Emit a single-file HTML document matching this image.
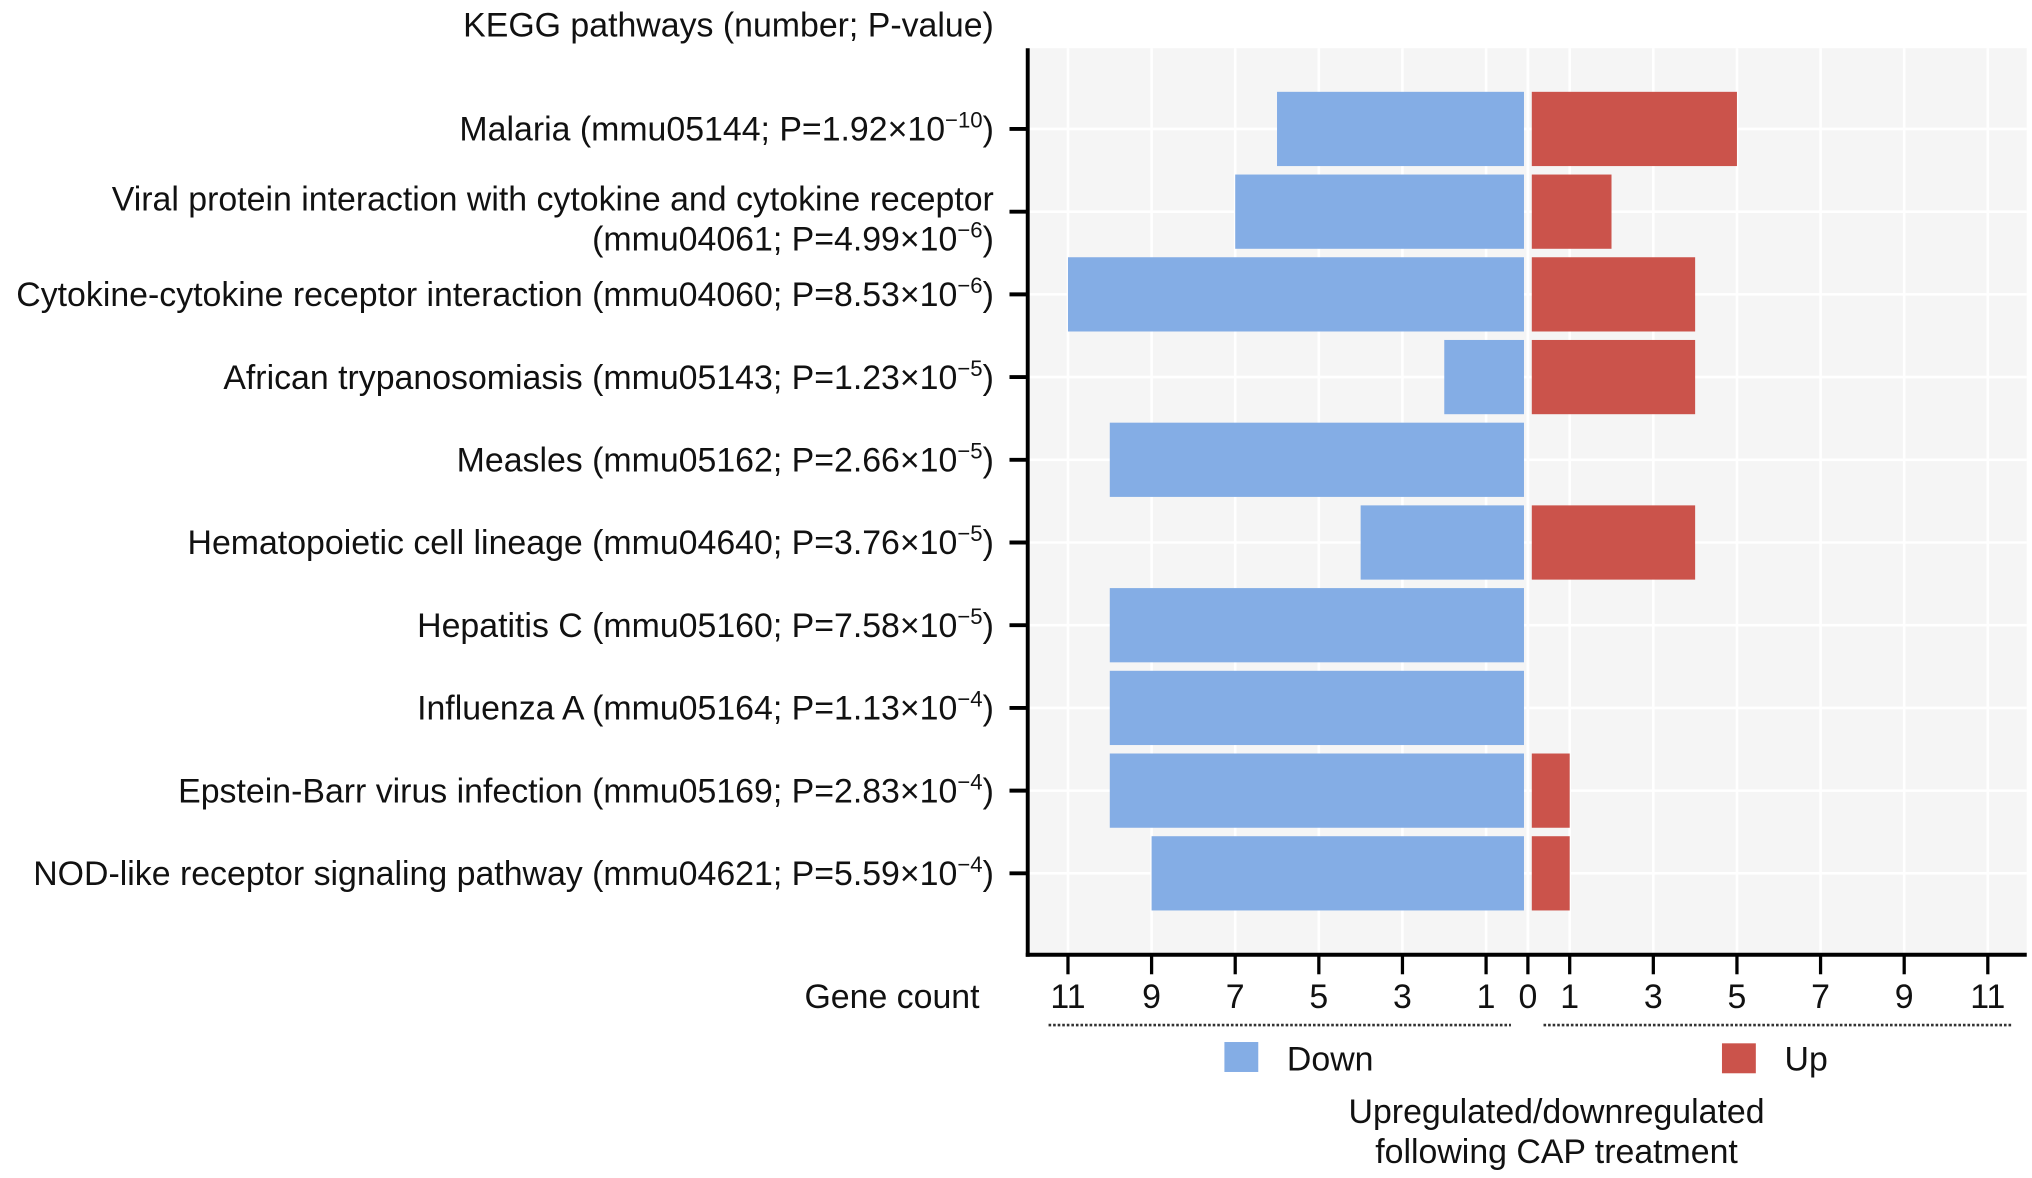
<!DOCTYPE html>
<html><head><meta charset="utf-8"><style>
html,body{margin:0;padding:0;background:#fff;}
svg{display:block;font-family:"Liberation Sans",Arial,sans-serif;}
</style></head><body>
<svg id="chart" width="2032" height="1178" viewBox="0 0 1560 904.4" xmlns="http://www.w3.org/2000/svg">
<g id="panel-g"></g>
</svg>
<script>
const names = ["Malaria","Viral protein interaction with cytokine and cytokine receptor","Cytokine-cytokine receptor interaction","African trypanosomiasis","Measles","Hematopoietic cell lineage","Hepatitis C","Influenza A","Epstein-Barr virus infection","NOD-like receptor signaling pathway"];
const codes = ["mmu05144","mmu04061","mmu04060","mmu05143","mmu05162","mmu04640","mmu05160","mmu05164","mmu05169","mmu04621"];
const pMant = ["1.92","4.99","8.53","1.23","2.66","3.76","7.58","1.13","2.83","5.59"];
const pExp = ["−10","−6","−6","−5","−5","−5","−5","−4","−4","−4"];
const downCounts = [6,7,11,2,10,4,10,10,10,9];
const upCounts = [5,2,4,4,0,4,0,0,1,1];
const tickVals = [11,9,7,5,3,1];

const NS="http://www.w3.org/2000/svg";
const svg=document.getElementById('chart');
function mk(tag,attrs,parent){const e=document.createElementNS(NS,tag);for(const k in attrs)e.setAttribute(k,attrs[k]);(parent||svg).appendChild(e);return e;}

const X0=1173, UNIT=32.1, PL=789, PR=1556, PT=37, PB=733;
const ROW0=99, ROWSTEP=63.5, BARH=57;
const FS=26;
const yRow=i=>ROW0+i*ROWSTEP;

let el;
el=mk('rect',{x:PL,y:PT,width:PR-PL,height:PB-PT,fill:'#f5f5f5'});


tickVals.concat([0]).forEach(v=>{
  [X0-v*UNIT, X0+v*UNIT].forEach(x=>{
    el=mk('line',{x1:x,x2:x,y1:PT,y2:PB,stroke:'#ffffff','stroke-width':2});
    
    
  });
});
names.forEach((n,i)=>{
  el=mk('line',{x1:PL,x2:PR,y1:yRow(i),y2:yRow(i),stroke:'#ffffff','stroke-width':2});
  
  
});
names.forEach((n,i)=>{
  const d=downCounts[i];
  if(d>0){
    el=mk('rect',{x:X0-d*UNIT,y:yRow(i)-BARH/2,width:d*UNIT-3,height:BARH,fill:'#84ade5'});
    
    
  }
  const u=upCounts[i];
  if(u>0){
    el=mk('rect',{x:X0+3,y:yRow(i)-BARH/2,width:u*UNIT-3,height:BARH,fill:'#cb534b'});
    
    
  }
});
el=mk('line',{x1:PL,x2:PL,y1:PT,y2:PB+1.5,stroke:'#000','stroke-width':3});


el=mk('line',{x1:PL-1.5,x2:PR,y1:PB,y2:PB,stroke:'#000','stroke-width':3});


function label(txt,x,y,mant,exp,code){
  const t=mk('text',{x:x,y:y,'text-anchor':'end','font-size':FS,fill:'#111'});
  
  
  let s=mk('tspan',{},t); s.textContent=txt+'('+code+'; P='+mant+'×10';
  s=mk('tspan',{dy:-10,'font-size':17},t); s.textContent=exp;
  s=mk('tspan',{dy:10},t); s.textContent=')';
  return t;
}
names.forEach((n,i)=>{
  const y=yRow(i);
  el=mk('line',{x1:PL-14,x2:PL,y1:y,y2:y,stroke:'#000','stroke-width':3});
  
  
  if(i===1){
    el=mk('text',{x:763,y:y-1,'text-anchor':'end','font-size':FS,fill:'#111'});
    
    
    el.textContent=n;
    label('',763,y+30,pMant[i],pExp[i],codes[i]);
  } else {
    label(n+' ',763,y+9,pMant[i],pExp[i],codes[i]);
  }
});
function xtick(x,v){
  el=mk('line',{x1:x,x2:x,y1:PB,y2:PB+15,stroke:'#000','stroke-width':2.5});
  
  
  el=mk('text',{x:x,y:774,'text-anchor':'middle','font-size':FS,fill:'#111'});
  
  
  el.textContent=v;
}
tickVals.forEach(v=>{xtick(X0-v*UNIT,v);xtick(X0+v*UNIT,v);});
xtick(X0,0);
function txt(s,x,y,anchor,name,size){
  el=mk('text',{x:x,y:y,'text-anchor':anchor,'font-size':size||FS,fill:'#111'});
  
  
  el.textContent=s;
}
txt('KEGG pathways (number; P-value)',763,28,'end','y-axis-title');
txt('Gene count',752,774,'end','x-axis-title');
el=mk('line',{x1:805,x2:1160,y1:787,y2:787,stroke:'#333','stroke-width':2,'stroke-dasharray':'2,1.5'});


el=mk('line',{x1:1185,x2:1545,y1:787,y2:787,stroke:'#333','stroke-width':2,'stroke-dasharray':'2,1.5'});


el=mk('rect',{x:940,y:800,width:26,height:23,fill:'#84ade5'});


txt('Down',988,822,'start','legend-label-down');
el=mk('rect',{x:1322,y:801,width:26,height:23,fill:'#cb534b'});


txt('Up',1370,822,'start','legend-label-up');
txt('Upregulated/downregulated',1195,862,'middle','legend-title-line1');
txt('following CAP treatment',1195,893,'middle','legend-title-line2');
</script>
</body></html>
